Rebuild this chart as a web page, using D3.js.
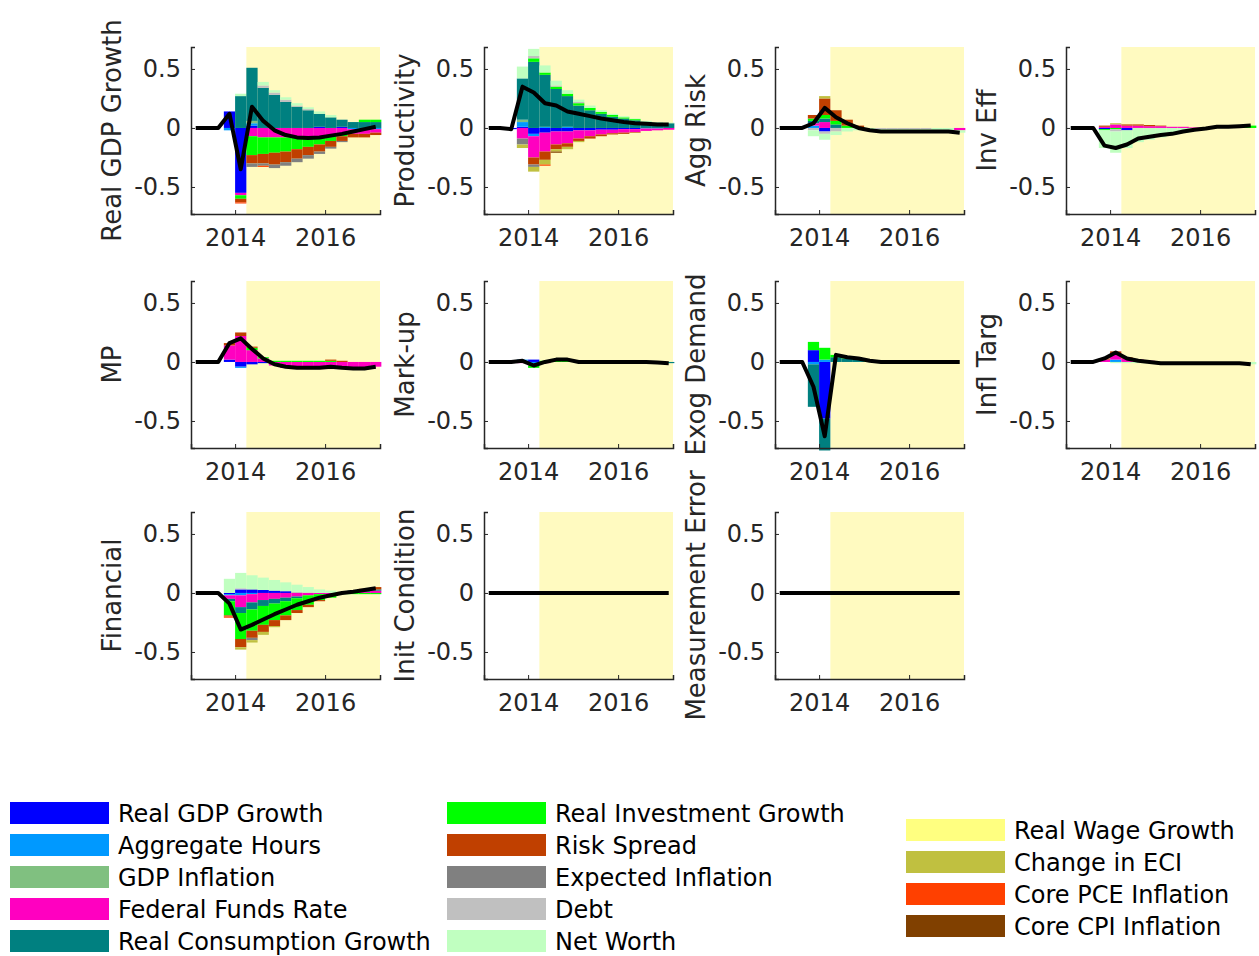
<!DOCTYPE html>
<html><head><meta charset="utf-8">
<script src="https://cdn.jsdelivr.net/npm/d3@7"></script>
<style>body{margin:0;background:#fff}svg{font-family:"DejaVu Sans",sans-serif}</style>
</head><body>
<script>
// quarters 2013Q1 .. 2017Q1, bars span [t, t+0.25]
var quarters = d3.range(17).map(function(i) { return 2013 + i * 0.25; });
var forecastStart = 2014.25;
var yTicks = [-0.5, 0, 0.5];
var xTicks = [2014, 2016];

var seriesNames = ["Real GDP Growth", "Aggregate Hours", "GDP Inflation", "Federal Funds Rate",
  "Real Consumption Growth", "Real Investment Growth", "Risk Spread", "Expected Inflation",
  "Debt", "Net Worth", "Real Wage Growth", "Change in ECI", "Core PCE Inflation", "Core CPI Inflation"];
var seriesKeys = ["gdp", "hours", "gdpInfl", "ffr", "cons", "inv", "spread", "expInfl",
  "debt", "netWorth", "wage", "eci", "pce", "cpi"];
var seriesColors = ["#0000ff", "#0099ff", "#80c080", "#ff00c0", "#008080", "#00ff00", "#c04000",
  "#808080", "#c0c0c0", "#c0ffc0", "#ffff80", "#c0c040", "#ff4000", "#804000"];

var shockNames = ["Real GDP Growth", "Productivity", "Agg Risk", "Inv Eff", "MP", "Mark-up",
  "Exog Demand", "Infl Targ", "Financial", "Init Condition", "Measurement Error"];

var realGdpShock = {
  cons:    [0,0,0,0,.27,.45,.34,.28,.22,.18,.15,.11,.09,.06,.05,.05,.05],
  gdp:     [0,0,0,.14,-.55,.02,0,0,0,0,0,.01,0,.01,0,0,0],
  netWorth:[0,0,0,0,.02,0,.03,.02,.02,.02,.015,.02,.02,0,0,0,0],
  debt:    [0,0,0,0,0,0,.02,.02,.02,.01,.01,0,0,0,0,0,0],
  gdpInfl: [0,0,0,0,0,.02,0,0,0,0,0,0,0,0,0,0,0],
  hours:   [0,0,0,-.02,0,.02,0,0,0,0,0,0,0,0,-.01,-.01,-.01],
  ffr:     [0,0,0,0,-.02,-.07,-.08,-.08,-.08,-.08,-.08,-.07,-.06,-.05,-.04,-.04,-.03],
  inv:     [0,0,0,0,-.03,-.16,-.14,-.13,-.12,-.10,-.08,-.07,-.05,-.02,0,.02,.02],
  spread:  [0,0,0,0,-.03,-.07,-.08,-.10,-.09,-.08,-.07,-.06,-.05,-.04,-.03,-.03,-.02],
  expInfl: [0,0,0,0,0,-.03,-.02,-.03,-.03,-.03,-.03,-.02,-.015,-.01,0,0,0],
  pce:     [0,0,0,0,-.01,0,-.01,0,0,0,0,0,0,0,0,0,0]
};
var productivityShock = {
  cons:    [0,0,0,.35,.56,.44,.33,.26,.19,.15,.12,.095,.08,.065,.05,.045,.04],
  netWorth:[0,0,0,.10,.06,.06,.04,.03,.02,.02,.015,.01,.01,.005,.01,.005,.005],
  inv:     [0,0,0,0,.03,.02,.02,.02,.02,.02,.015,.015,.01,.01,0,0,0],
  debt:    [0,0,0,0,.02,0,.01,0,.01,0,0,0,0,0,0,0,0],
  hours:   [0,0,0,.04,-.02,.01,0,.01,0,0,0,0,0,0,-.005,-.005,0],
  gdpInfl: [0,0,0,.02,0,0,0,0,0,0,0,0,0,0,0,0,0],
  gdp:     [0,0,-.01,.01,-.05,-.04,-.03,-.03,-.02,-.02,-.015,-.015,-.01,-.01,0,0,0],
  ffr:     [0,0,0,-.09,-.18,-.16,-.11,-.10,-.07,-.05,-.04,-.03,-.03,-.025,-.02,-.015,-.015],
  spread:  [0,0,0,0,-.06,-.07,-.04,-.03,-.02,-.02,-.015,-.01,-.01,-.005,0,0,0],
  eci:     [0,0,0,-.03,-.04,-.04,-.02,-.02,-.01,0,0,0,0,0,0,0,0],
  expInfl: [0,0,0,-.05,-.02,0,0,0,0,0,0,0,0,0,0,0,0],
  pce:     [0,0,0,0,0,-.01,0,0,0,0,0,0,0,0,0,0,0],
  cpi:     [0,0,0,0,0,0,-.01,0,0,0,0,0,0,0,0,0,0]
};
var aggRiskShock = {
  spread:  [0,0,0,.03,.14,.09,.05,.02,0,0,0,0,0,0,0,0,0],
  inv:     [0,0,0,.02,.03,.03,.02,0,0,0,0,0,0,0,0,0,0],
  ffr:     [0,0,0,.02,.05,0,0,0,0,0,0,0,0,0,0,0,-.02],
  cons:    [0,0,0,.02,.03,.03,0,0,0,0,0,0,0,0,0,0,0],
  hours:   [0,0,0,.02,0,0,0,0,0,0,0,0,0,0,0,0,0],
  eci:     [0,0,0,0,.02,0,0,0,0,0,0,0,0,0,0,0,0],
  netWorth:[0,0,0,-.05,-.05,-.03,-.03,-.02,-.02,-.02,-.02,-.02,-.02,-.02,-.03,-.03,-.02],
  debt:    [0,0,0,-.02,-.02,-.03,0,0,0,-.01,-.01,-.01,-.01,-.01,0,0,0],
  gdp:     [0,0,0,0,-.03,0,0,0,0,0,0,0,0,0,0,0,0]
};
var invEffShock = {
  netWorth:[0,0,0,-.15,-.18,-.15,-.12,-.10,-.08,-.06,-.04,-.02,-.01,0,0,0,0],
  ffr:     [0,0,0,.01,.03,.02,.02,.015,.015,.01,.01,.005,0,0,0,0,0],
  spread:  [0,0,0,.01,0,.01,.01,.01,.005,0,0,0,0,0,0,0,0],
  eci:     [0,0,0,0,.01,0,0,0,0,0,0,0,0,0,0,0,0],
  gdp:     [0,0,0,-.01,0,-.02,0,0,0,0,0,0,0,0,0,0,0],
  debt:    [0,0,0,0,-.02,0,0,0,0,0,0,0,0,0,0,0,0],
  inv:     [0,0,0,-.01,-.01,0,0,0,0,0,0,0,.005,.01,.01,.015,.02]
};
var mpShock = {
  ffr:     [0,0,0,.12,.22,.10,.03,-.03,-.05,-.06,-.06,-.06,-.06,-.06,-.055,-.055,-.04],
  gdp:     [0,0,0,.02,-.04,-.02,-.01,0,0,0,0,0,0,0,0,0,0],
  spread:  [0,0,0,.02,.03,.01,0,0,0,0,0,0,.01,.01,0,0,0],
  inv:     [0,0,0,0,0,.02,.01,.01,.01,.01,.01,.01,.01,0,0,0,0],
  hours:   [0,0,0,0,-.01,0,0,0,0,0,0,0,0,0,0,0,0]
};
var markupShock = {
  gdp:     [0,0,0,.01,.02,0,0,0,0,0,0,0,0,0,0,0,0],
  ffr:     [0,0,0,-.01,-.02,-.01,0,0,0,0,0,0,0,0,0,0,0],
  inv:     [0,0,0,0,-.02,.01,.01,.01,0,0,0,0,0,0,0,0,0],
  hours:   [0,0,0,.01,-.01,0,0,0,0,0,0,0,0,0,0,0,0],
  spread:  [0,0,0,0,0,0,.01,.01,0,0,0,0,0,0,0,0,0],
  cons:    [0,0,0,0,0,0,0,0,0,0,0,0,0,0,0,-.005,-.01]
};
var exogDemandShock = {
  gdp:     [0,0,0,.10,-.48,0,0,0,0,0,0,0,0,0,0,0,0],
  inv:     [0,0,0,.07,.10,.02,.01,.01,.01,0,0,0,0,0,0,0,0],
  cons:    [0,0,0,-.36,-.27,.04,.03,.02,0,0,0,0,0,0,0,0,0],
  hours:   [0,0,0,-.02,.02,0,0,0,0,0,0,0,0,0,0,0,0]
};
var inflTargShock = {
  ffr:     [0,0,0,.02,.05,.03,.02,.01,0,0,0,0,0,0,0,0,0],
  spread:  [0,0,0,.01,.02,.01,0,0,0,0,0,0,0,0,0,0,0],
  hours:   [0,0,0,0,.02,0,0,0,0,0,0,0,0,0,0,0,0],
  netWorth:[0,0,0,0,-.01,-.01,-.01,-.01,-.01,-.01,-.01,-.01,-.01,-.01,-.01,-.01,-.02]
};
var financialShock = {
  netWorth:[0,0,0,.12,.13,.12,.105,.09,.075,.06,.045,.03,.02,.01,0,0,0],
  gdp:     [0,0,0,-.01,.03,.03,.025,.02,.015,0,0,0,0,0,0,0,0],
  debt:    [0,0,0,0,.01,0,0,0,0,.01,.005,0,0,0,0,0,0],
  inv:     [0,0,0,-.12,-.22,-.18,-.16,-.14,-.12,-.10,-.08,-.05,-.03,-.01,-.01,-.01,-.01],
  ffr:     [0,0,0,-.03,-.10,-.07,-.06,-.05,-.04,-.03,-.02,-.01,-.01,0,.01,.01,.02],
  cons:    [0,0,0,-.02,-.05,-.06,-.05,-.04,-.03,-.015,0,0,0,0,.01,.015,.01],
  spread:  [0,0,0,-.01,-.07,-.06,-.06,-.05,-.04,-.025,-.02,-.01,0,0,0,.01,.02],
  eci:     [0,0,0,0,-.02,-.02,-.025,-.01,0,0,0,0,0,0,0,0,0],
  hours:   [0,0,0,-.01,-.02,-.01,0,0,0,0,0,0,0,0,0,0,0],
  pce:     [0,0,0,-.01,0,0,0,0,0,0,0,0,0,0,0,0,0],
  expInfl: [0,0,0,0,0,-.02,0,0,0,0,0,0,0,0,0,0,0]
};
var initConditionShock = {};
var measurementErrorShock = {};

var panelData = [realGdpShock, productivityShock, aggRiskShock, invEffShock, mpShock, markupShock,
  exogDemandShock, inflTargShock, financialShock, initConditionShock, measurementErrorShock];

var W = 1259, H = 956;
var colLeft = [191, 484, 775, 1066], rowTop = [47, 281, 512];
var pw = 189, ph = 167;
var axisColor = "#262626";

var svg = d3.select("body").append("svg").attr("width", W).attr("height", H);

var x = d3.scaleLinear().domain([2013.02, 2017.22]).range([0, pw]);
var y = d3.scaleLinear().domain([-0.729, 0.686]).range([ph, 0]);

panelData.forEach(function(data, p) {
  var g = svg.append("g")
    .attr("transform", "translate(" + colLeft[p % 4] + "," + rowTop[Math.floor(p / 4)] + ")");

  g.append("rect")
    .attr("x", x(forecastStart)).attr("y", 0)
    .attr("width", pw - x(forecastStart)).attr("height", ph)
    .attr("fill", "#fffac0");

  // stacked bars: positives up, negatives down
  quarters.forEach(function(t, i) {
    var pos = 0, neg = 0;
    seriesKeys.forEach(function(k, s) {
      var v = data[k] ? data[k][i] : 0;
      if (!v) return;
      var y0, y1;
      if (v > 0) { y0 = pos; y1 = pos + v; pos = y1; }
      else { y0 = neg; y1 = neg + v; neg = y1; }
      g.append("rect")
        .attr("x", x(t)).attr("width", x(t + 0.25) - x(t))
        .attr("y", y(Math.max(y0, y1)))
        .attr("height", Math.abs(y(y0) - y(y1)))
        .attr("fill", seriesColors[s]);
    });
  });

  var total = quarters.map(function(t, i) {
    return d3.sum(seriesKeys, function(k) { return data[k] ? data[k][i] : 0; });
  });
  g.append("path")
    .datum(total)
    .attr("fill", "none").attr("stroke", "#000").attr("stroke-width", 4)
    .attr("stroke-linejoin", "round")
    .attr("d", d3.line()
      .x(function(d, i) { return x(quarters[i] + 0.125); })
      .y(function(d) { return y(d); }));

  var ya = g.append("g")
    .call(d3.axisLeft(y).tickValues(yTicks).tickSize(-4).tickPadding(10)
      .tickFormat(function(d) { return d === 0 ? "0" : d3.format(".1f")(d).replace("\u2212", "-"); }));
  var xa = g.append("g").attr("transform", "translate(0," + ph + ")")
    .call(d3.axisBottom(x).tickValues(xTicks).tickSize(-4).tickPadding(15).tickFormat(d3.format("d")));
  [ya, xa].forEach(function(a) {
    a.select(".domain").attr("stroke", axisColor).attr("stroke-width", 1.5);
    a.selectAll(".tick line").attr("stroke", axisColor);
    a.selectAll("text").attr("fill", axisColor).style("font-size", "24px")
      .style("font-family", "'DejaVu Sans', sans-serif");
  });

  g.append("text")
    .attr("transform", "translate(-70," + (ph / 2) + ") rotate(-90)")
    .attr("text-anchor", "middle")
    .attr("fill", axisColor)
    .style("font-size", "26px")
    .text(shockNames[p]);
});

// legend
var legendCols = [
  { x: 10, y: 813, items: [0, 1, 2, 3, 4] },
  { x: 447, y: 813, items: [5, 6, 7, 8, 9] },
  { x: 906, y: 830, items: [10, 11, 12, 13] }
];
legendCols.forEach(function(col) {
  col.items.forEach(function(s, j) {
    var cy = col.y + j * 32;
    svg.append("rect").attr("x", col.x).attr("y", cy - 11)
      .attr("width", 99).attr("height", 22).attr("fill", seriesColors[s]);
    svg.append("text").attr("x", col.x + 108).attr("y", cy + 9)
      .attr("fill", "#000").style("font-size", "24px").text(seriesNames[s]);
  });
});
</script>
</body></html>
